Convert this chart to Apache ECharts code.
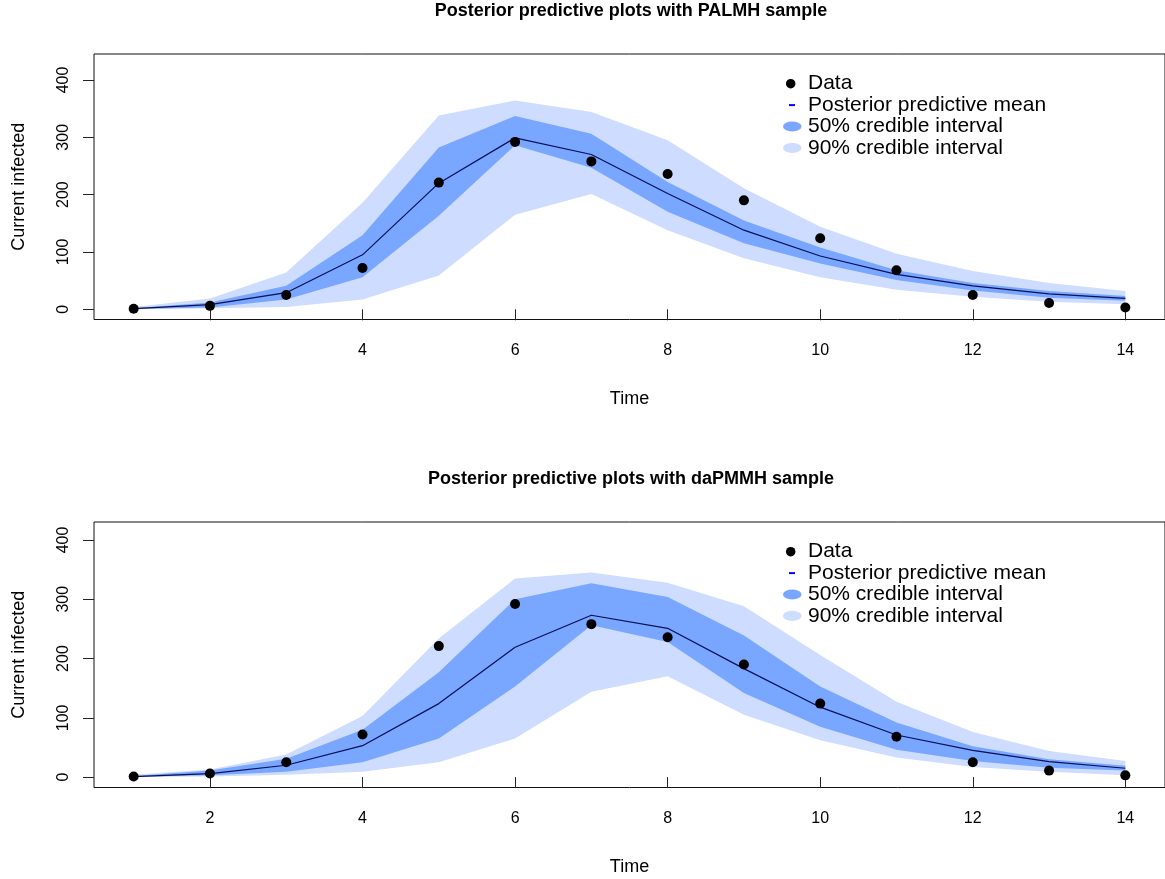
<!DOCTYPE html>
<html>
<head>
<meta charset="utf-8">
<script src="https://cdn.jsdelivr.net/npm/echarts@6/dist/echarts.min.js"></script>
<style>
html,body{margin:0;padding:0;background:#fff;}
#chart{width:1165px;height:879px;}
</style>
</head>
<body>
<div id="chart"></div>
<script>
// ---------- data ----------
const time = [1, 2, 3, 4, 5, 6, 7, 8, 9, 10, 11, 12, 13, 14];
const observed = [1, 6, 25, 72, 221, 292, 258, 236, 190, 124, 68, 25, 11, 3];

// PALMH sample
const palmhMean  = [1, 8, 29, 95, 220, 299, 270, 202, 138, 93, 61, 41, 27, 19];
const palmhLo50  = [0.5, 3, 17, 56, 163, 286, 247, 170, 115, 80, 51, 33, 20, 15];
const palmhHi50  = [2, 12, 41, 129, 282, 337, 306, 222, 155, 108, 68, 46, 32, 23];
const palmhLo90  = [0, 2, 4, 17, 59, 165, 201, 138, 89, 56, 34, 22, 13, 9];
const palmhHi90  = [4, 19, 64, 186, 338, 364, 344, 295, 211, 144, 97, 67, 46, 32];

// daPMMH sample
const dapmmhMean = [1, 6, 20, 53, 124, 219, 273, 251, 183, 118, 71, 45, 26, 15];
const dapmmhLo50 = [0.5, 3, 9, 25, 65, 153, 256, 228, 142, 85, 46, 27, 16, 11];
const dapmmhHi50 = [2, 11, 31, 80, 177, 300, 327, 304, 239, 153, 92, 52, 30, 19];
const dapmmhLo90 = [0, 1, 4, 9, 25, 65, 144, 170, 105, 62, 33, 17, 9, 3];
const dapmmhHi90 = [4, 13, 38, 103, 234, 335, 345, 328, 288, 206, 127, 76, 44, 27];

const xTicks = [2, 4, 6, 8, 10, 12, 14];
const yTicks = [0, 100, 200, 300, 400];
const titles = ['Posterior predictive plots with PALMH sample', 'Posterior predictive plots with daPMMH sample'];
const legendNames = ['Data', 'Posterior predictive mean', '50% credible interval', '90% credible interval'];

// ---------- styling ----------
const C50 = '#79a6ff';
const C90 = '#cddcff';
const CMEAN = '#0a0f55';
const FONT = 'Liberation Sans, Arial, Helvetica, sans-serif';

const pairs = (ys) => time.map((t, i) => [t, ys[i]]);

// band polygon drawn through the axis scales (api.coord)
function bandSeries(k, name, lo, hi, color, z) {
  return {
    type: 'custom', name: name, xAxisIndex: k, yAxisIndex: k, z: z,
    silent: true, animation: false, clip: true,
    itemStyle: {color: color},
    data: time.map((t, i) => [t, lo[i], hi[i]]),
    encode: {x: 0, y: [1, 2]},
    renderItem: function (params, api) {
      if (params.dataIndex !== 0) return null;
      const upper = [], lower = [];
      for (let i = 0; i < time.length; i++) {
        upper.push(api.coord([time[i], hi[i]]));
        lower.push(api.coord([time[i], lo[i]]));
      }
      const pts = upper.concat(lower.reverse());
      return {type: 'polygon', shape: {points: pts}, style: {fill: color, stroke: null}};
    }
  };
}

const panels = [
  {mean: palmhMean, lo50: palmhLo50, hi50: palmhHi50, lo90: palmhLo90, hi90: palmhHi90, top: 54, yMin: -17.8, yMax: 445.3},
  {mean: dapmmhMean, lo50: dapmmhLo50, hi50: dapmmhHi50, lo90: dapmmhLo90, hi90: dapmmhHi90, top: 522, yMin: -17.5, yMax: 430.3}
];

const grids = [], xAxes = [], yAxes = [], series = [], legends = [], titleOpts = [];

panels.forEach((p, k) => {
  grids.push({left: 94, right: -3, top: p.top, height: 265.5, show: true, borderColor: '#111', borderWidth: 1, backgroundColor: 'transparent'});
  xAxes.push({
    type: 'value', gridIndex: k, min: 0.48, max: 14.52,
    name: 'Time', nameLocation: 'middle', nameGap: 71,
    nameTextStyle: {fontFamily: FONT, fontSize: 18, color: '#000'},
    axisLine: {show: false}, splitLine: {show: false},
    axisTick: {show: true, inside: false, length: 11, customValues: xTicks, lineStyle: {color: '#222'}},
    axisLabel: {show: true, margin: 23, customValues: xTicks, fontFamily: FONT, fontSize: 16, color: '#000'}
  });
  yAxes.push({
    type: 'value', gridIndex: k, min: p.yMin, max: p.yMax,
    name: 'Current infected', nameLocation: 'middle', nameGap: 66, nameRotate: 90,
    nameTextStyle: {fontFamily: FONT, fontSize: 18, color: '#000'},
    axisLine: {show: false}, splitLine: {show: false},
    axisTick: {show: true, inside: false, length: 11, customValues: yTicks, lineStyle: {color: '#222'}},
    axisLabel: {show: true, rotate: 90, margin: 22, customValues: yTicks, fontFamily: FONT, fontSize: 16, color: '#000'}
  });

  series.push(bandSeries(k, '90% credible interval', p.lo90, p.hi90, C90, 1));
  series.push(bandSeries(k, '50% credible interval', p.lo50, p.hi50, C50, 2));
  series.push({
    type: 'line', name: 'Posterior predictive mean', xAxisIndex: k, yAxisIndex: k, data: pairs(p.mean),
    animation: false, silent: true,
    showSymbol: false, symbol: 'none', lineStyle: {width: 1.2, color: CMEAN}, itemStyle: {color: '#0000ff'}, z: 5
  });
  series.push({
    type: 'scatter', name: 'Data', xAxisIndex: k, yAxisIndex: k, data: pairs(observed),
    animation: false, silent: true,
    symbol: 'circle', symbolSize: 10, itemStyle: {color: '#000', opacity: 1}, z: 6
  });

  legends.push({
    orient: 'vertical', left: 783, top: p.top + 19, itemWidth: 20, itemHeight: 10, itemGap: 0,
    selectedMode: false, padding: 0,
    textStyle: {fontFamily: FONT, fontSize: 21, lineHeight: 21.4, color: '#000'},
    data: [
      {name: legendNames[0], icon: 'path://M0,0M20,10M2.95,5A4.75,4.75,0,1,1,12.45,5A4.75,4.75,0,1,1,2.95,5Z', itemStyle: {color: '#000', opacity: 1}},
      {name: legendNames[1], icon: 'path://M0,0M20,10M6,4L12,4L12,6L6,6Z', itemStyle: {color: '#0000ff'}},
      {name: legendNames[2], icon: 'path://M0,0M20,10M0,5A9.25,5,0,1,1,18.5,5A9.25,5,0,1,1,0,5Z', itemStyle: {color: C50}},
      {name: legendNames[3], icon: 'path://M0,0M20,10M0,5A9.25,5,0,1,1,18.5,5A9.25,5,0,1,1,0,5Z', itemStyle: {color: C90}}
    ]
  });

  titleOpts.push({
    text: titles[k], left: 631, textAlign: 'center', top: p.top - 52, padding: 0,
    textStyle: {fontFamily: FONT, fontSize: 18, fontWeight: 'bold', color: '#000'}
  });
});

const chart = echarts.init(document.getElementById('chart'), null, {renderer: 'canvas'});
chart.setOption({
  backgroundColor: '#fff',
  animation: false,
  title: titleOpts,
  legend: legends,
  grid: grids,
  xAxis: xAxes,
  yAxis: yAxes,
  series: series
});
</script>
</body>
</html>
